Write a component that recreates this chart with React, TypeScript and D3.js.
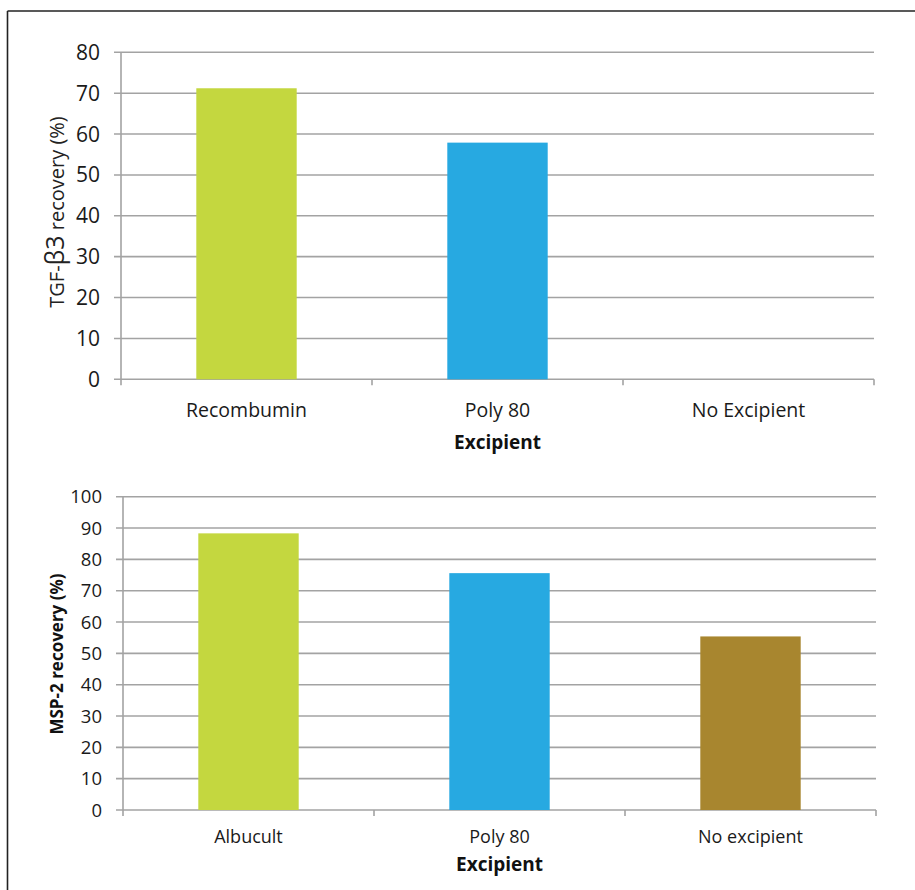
import React from "react";
import * as d3 from "d3";

const topCategories = ["Recombumin", "Poly 80", "No Excipient"];
const topValues = [71.2, 57.9, 0];
const topTicks = [0, 10, 20, 30, 40, 50, 60, 70, 80];

const bottomCategories = ["Albucult", "Poly 80", "No excipient"];
const bottomValues = [88.3, 75.6, 55.4];
const bottomTicks = [0, 10, 20, 30, 40, 50, 60, 70, 80, 90, 100];

const barColors = ["#c4d73f", "#27a9e1", "#a8862f"];
const FONT = "'Open Sans', 'Liberation Sans', sans-serif";
const GRID = "#a3a3a3";

type PanelProps = {
  categories: string[];
  values: number[];
  ticks: number[];
  yMax: number;
  x0: number;
  x1: number;
  yTop: number;
  yBottom: number;
  tickFont: number;
  catFont: number;
  catBaseline: number;
  xTitleBaseline: number;
  yTitle: React.ReactNode;
};

function Panel(p: PanelProps) {
  const x = d3.scaleBand<string>().domain(p.categories).range([p.x0, p.x1]).paddingInner(0.6).paddingOuter(0.3);
  const band = d3.scaleBand<string>().domain(p.categories).range([p.x0, p.x1]);
  const y = d3.scaleLinear().domain([0, p.yMax]).range([p.yBottom, p.yTop]);
  const boundaries = [p.x0, ...p.categories.map((c) => (band(c) as number) + band.bandwidth())];
  return (
    <g>
      {p.ticks.map((t) => (
        <g key={t}>
          <line x1={p.x0 - 7} x2={p.x1} y1={y(t)} y2={y(t)} stroke={GRID} strokeWidth={1.6} />
          <text x={p.x0 - 21} y={y(t)} dy="0.36em" textAnchor="end" fontFamily={FONT} fontSize={p.tickFont} fill="#1a1a1a">
            {t}
          </text>
        </g>
      ))}
      <line x1={p.x0} x2={p.x0} y1={y(p.yMax)} y2={p.yBottom + 6} stroke={GRID} strokeWidth={1.6} />
      {boundaries.slice(1).map((b, i) => (
        <line key={i} x1={b} x2={b} y1={p.yBottom} y2={p.yBottom + 6} stroke={GRID} strokeWidth={1.6} />
      ))}
      {p.categories.map((c, i) =>
        p.values[i] > 0 ? (
          <rect key={c} x={x(c)} width={x.bandwidth()} y={y(p.values[i])} height={p.yBottom - y(p.values[i])} fill={barColors[i]} />
        ) : null
      )}
      {p.categories.map((c) => (
        <text key={c} x={(band(c) as number) + band.bandwidth() / 2} y={p.catBaseline} textAnchor="middle" fontFamily={FONT} fontSize={p.catFont} fill="#1a1a1a">
          {c}
        </text>
      ))}
      <text x={(p.x0 + p.x1) / 2} y={p.xTitleBaseline} textAnchor="middle" fontFamily={FONT} fontSize={19} fontWeight="bold" fill="#111">
        Excipient
      </text>
      {p.yTitle}
    </g>
  );
}

export default function App() {
  return (
    <svg width={915} height={890} style={{ position: "absolute", left: 0, top: 0, background: "#fff" }}>
      <rect x={0} y={0} width={915} height={890} fill="#fff" />
      <line x1={7.5} x2={915} y1={11} y2={11} stroke="#222" strokeWidth={1.6} />
      <line x1={7.5} x2={7.5} y1={11} y2={890} stroke="#222" strokeWidth={1.6} />
      <Panel
        categories={topCategories}
        values={topValues}
        ticks={topTicks}
        yMax={80}
        x0={121}
        x1={874}
        yTop={52.3}
        yBottom={379.3}
        tickFont={21}
        catFont={19.5}
        catBaseline={417}
        xTitleBaseline={449}
        yTitle={
          <text transform="translate(64,212) rotate(-90)" textAnchor="middle" fontFamily={FONT} fontSize={20} fill="#222">
            TGF-<tspan fontSize={25}>β3</tspan> recovery (%)
          </text>
        }
      />
      <Panel
        categories={bottomCategories}
        values={bottomValues}
        ticks={bottomTicks}
        yMax={100}
        x0={123}
        x1={876}
        yTop={496.7}
        yBottom={810}
        tickFont={18.5}
        catFont={18}
        catBaseline={843}
        xTitleBaseline={871}
        yTitle={
          <text transform="translate(63,654) rotate(-90)" textAnchor="middle" fontFamily={FONT} fontSize={17} fontWeight="bold" fill="#111">
            MSP-2 recovery (%)
          </text>
        }
      />
    </svg>
  );
}
